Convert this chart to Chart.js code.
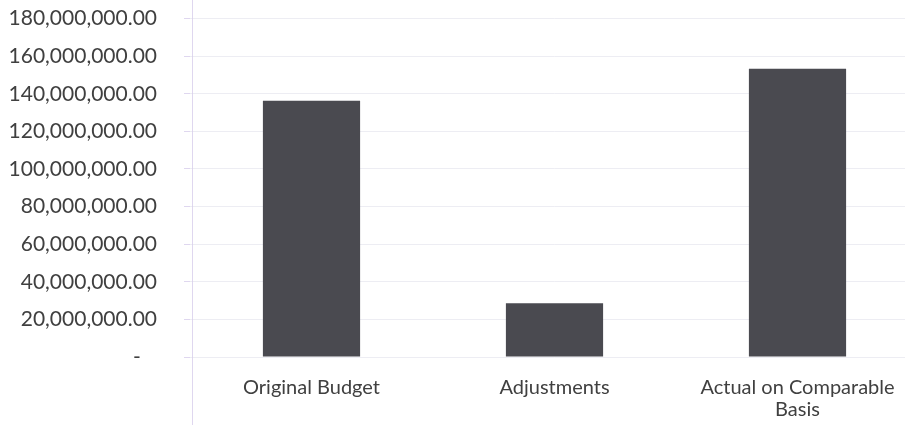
<!DOCTYPE html>
<html>
<head>
<meta charset="utf-8">
<script src="https://cdn.jsdelivr.net/npm/chart.js@4/dist/chart.umd.min.js"></script>
<style>
  html, body { margin: 0; padding: 0; background: #fff; overflow: hidden; }
  #wrap { width: 905px; height: 425px; overflow: hidden; position: relative; }
  #box { position: absolute; left: 0; top: -21px; width: 925px; height: 446px; }
</style>
</head>
<body>
<div id="wrap"><div id="box"><canvas id="chartBudget"></canvas></div></div>
<script>
'use strict';

// Datos
const categorias = ['Original Budget', 'Adjustments', ['Actual on Comparable', 'Basis']];
const valores = [136300000, 28600000, 153300000];
const yMin = 0;
const yMax = 180000000;
const yPaso = 20000000;

Chart.defaults.color = '#404040';
Chart.defaults.font.family = "Lato, 'Open Sans', sans-serif";
Chart.defaults.font.size = 21;

function fmtMonto(v) {
  if (v === 0) return '-   ';
  return v.toLocaleString('en-US', { minimumFractionDigits: 2, maximumFractionDigits: 2 });
}

// línea del eje vertical, de arriba a abajo del lienzo
const ejeLargo = {
  id: 'ejeLargo',
  afterDraw(chart) {
    const { ctx, chartArea } = chart;
    ctx.save();
    ctx.strokeStyle = 'rgba(215, 205, 235, 0.8)';
    ctx.lineWidth = 1;
    ctx.beginPath();
    ctx.moveTo(chartArea.left + 2.5, 0);
    ctx.lineTo(chartArea.left + 2.5, chart.height);
    ctx.stroke();
    ctx.restore();
  }
};

new Chart(document.getElementById('chartBudget').getContext('2d'), {
  type: 'bar',
  data: {
    labels: categorias,
    datasets: [{
      data: valores,
      backgroundColor: '#4a4a50',
      borderWidth: 0,
      barPercentage: 0.4,
      categoryPercentage: 1.0
    }]
  },
  options: {
    responsive: true,
    maintainAspectRatio: false,
    animation: false,
    layout: { padding: { top: -18, bottom: 0, left: 0, right: 6 } },
    plugins: { legend: { display: false }, tooltip: { enabled: false } },
    scales: {
      x: {
        grid: { display: false },
        border: { display: false },
        afterFit(scale) { scale.height = 68; },
        ticks: { padding: 12, maxRotation: 0, autoSkip: false, font: { size: 20, lineHeight: 1.1 } }
      },
      y: {
        min: yMin,
        max: yMax,
        afterFit(scale) { scale.width = 190; },
        ticks: {
          stepSize: yPaso,
          padding: 27,
          callback: v => fmtMonto(v)
        },
        grid: {
          color: 'rgba(225, 225, 235, 0.6)',
          tickLength: 6,
          tickColor: 'rgba(215, 205, 235, 0.8)'
        },
        border: { display: false }
      }
    }
  },
  plugins: [ejeLargo]
});
</script>
</body>
</html>
